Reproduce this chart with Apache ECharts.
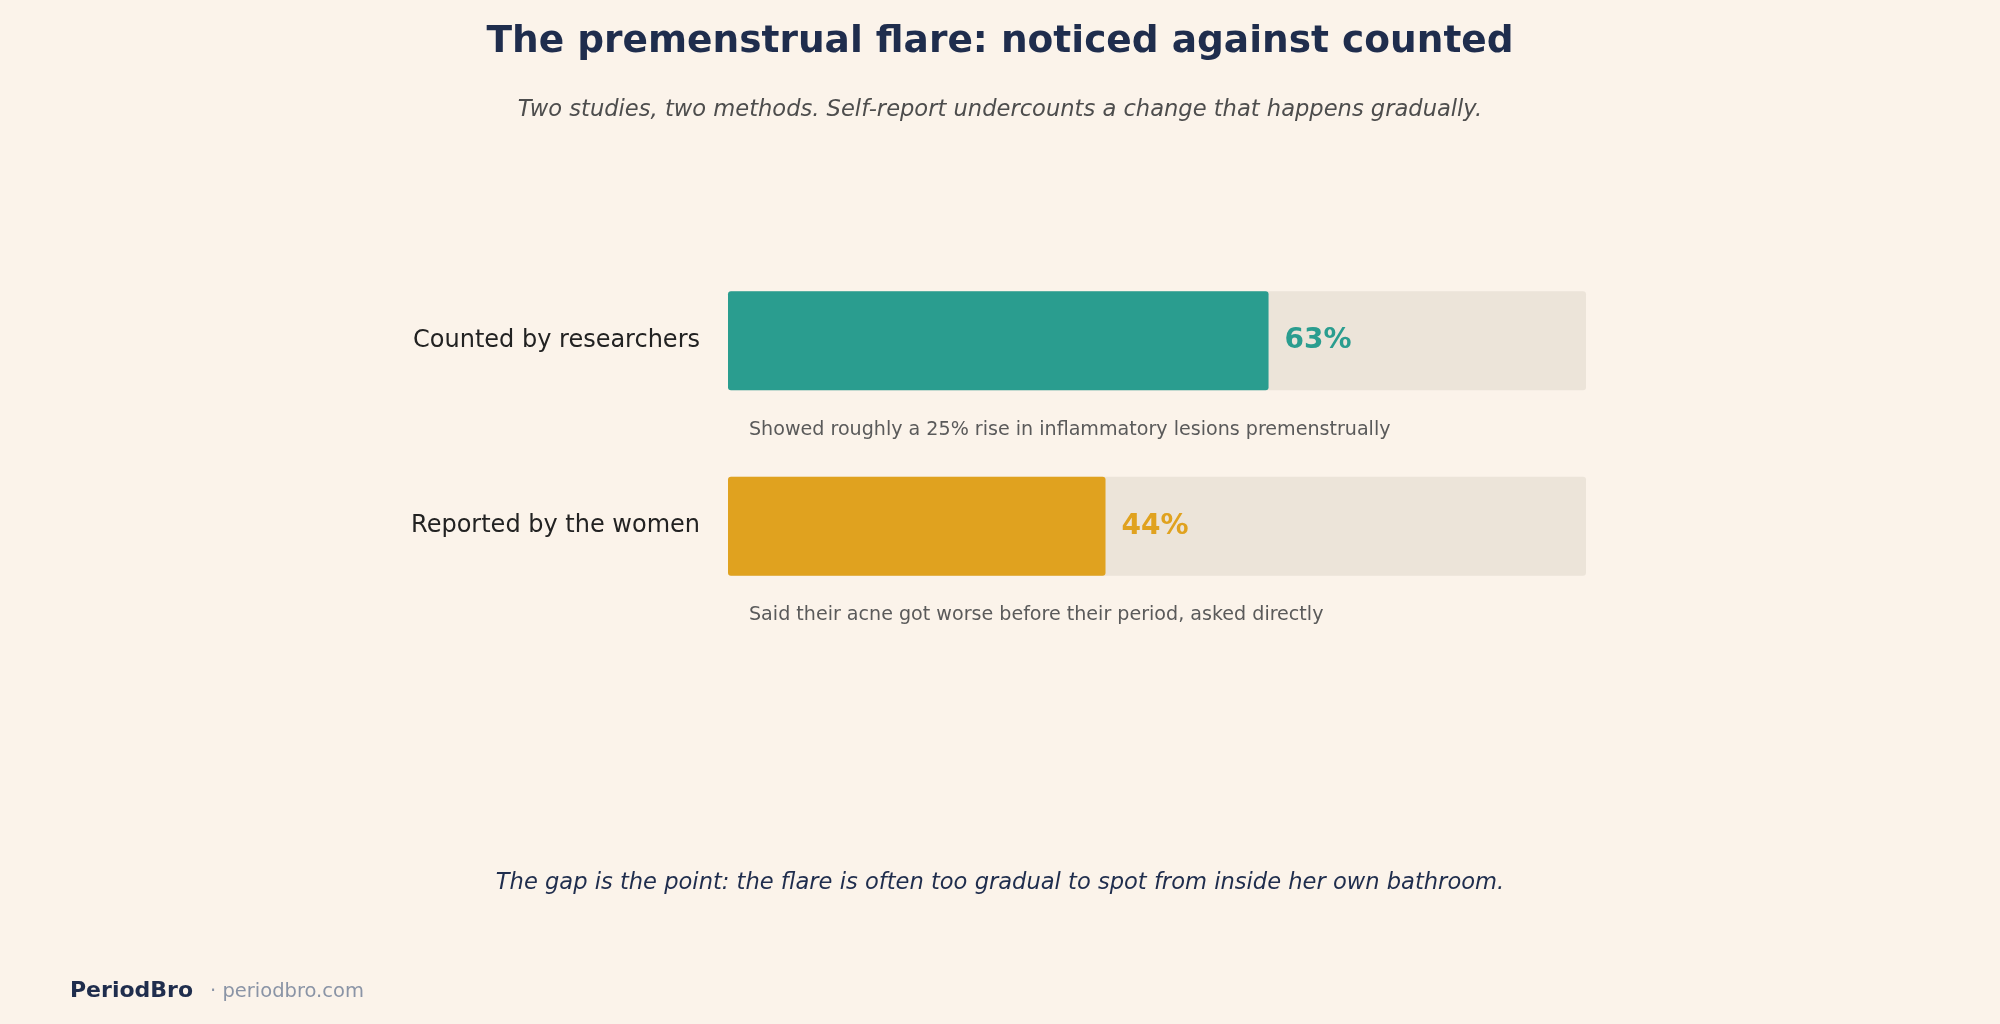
<!DOCTYPE html>
<html><head><meta charset="utf-8">
<script src="https://cdn.jsdelivr.net/npm/echarts@6/dist/echarts.min.js"></script>
<style>html,body{margin:0;padding:0;background:#fbf3ea}#c{width:2000px;height:1024px}</style>
</head><body><div id="c"></div>
<script>
const categories = ['Counted by researchers', 'Reported by the women'];
const values = [63, 44];
const colors = ['#2a9d8f', '#e0a21f'];
const notes = ['Showed roughly a 25% rise in inflammatory lesions premenstrually', 'Said their acne got worse before their period, asked directly'];
const chart = echarts.init(document.getElementById('c'));
const F = 'DejaVu Sans';
chart.setOption({
  backgroundColor: '#fbf3ea',
  title: [
    {text: 'The premenstrual flare: noticed against counted', left: 'center', top: 18,
     textStyle: {fontFamily: F, fontSize: 37.5, fontWeight: 'bold', color: '#1f2d4d'}},
    {text: 'Two studies, two methods. Self-report undercounts a change that happens gradually.', left: 'center', top: 94,
     textStyle: {fontFamily: F, fontSize: 22.6, fontStyle: 'italic', fontWeight: 'normal', color: '#4d4d4d'}}
  ],
  grid: {left: 728, right: 414, top: 248, bottom: 405},
  xAxis: {type: 'value', min: 0, max: 100, show: false},
  yAxis: {type: 'category', data: categories, inverse: true,
    axisLine: {show: false}, axisTick: {show: false},
    axisLabel: {fontFamily: F, fontSize: 24, color: '#222', margin: 28}},
  series: [{
    type: 'bar', barWidth: 99,
    data: values.map((v, i) => ({value: v, itemStyle: {color: colors[i]},
      label: {color: colors[i]}})),
    itemStyle: {borderRadius: 3},
    showBackground: true,
    backgroundStyle: {color: '#ece4d9', borderRadius: 3},
    label: {show: true, position: 'right', distance: 16, formatter: '{c}%',
      fontFamily: F, fontSize: 28, fontWeight: 'bold'}
  }],
  graphic: [
    ...notes.map((t, i) => ({type: 'text', left: 749, top: 421 + i * 185,
      style: {text: t, font: '19.1px "DejaVu Sans"', fill: '#5a5a5a'}})),
    {type: 'text', left: 'center', top: 872,
     style: {text: 'The gap is the point: the flare is often too gradual to spot from inside her own bathroom.',
       font: 'italic 22.6px "DejaVu Sans"', fill: '#1f2d4d'}},
    {type: 'text', left: 70, top: 980,
     style: {text: 'PeriodBro', font: 'bold 22px "DejaVu Sans"', fill: '#1f2d4d'}},
    {type: 'text', left: 210, top: 982,
     style: {text: '· periodbro.com', font: '19.5px "DejaVu Sans"', fill: '#8a94a6'}}
  ]
});
</script></body></html>
